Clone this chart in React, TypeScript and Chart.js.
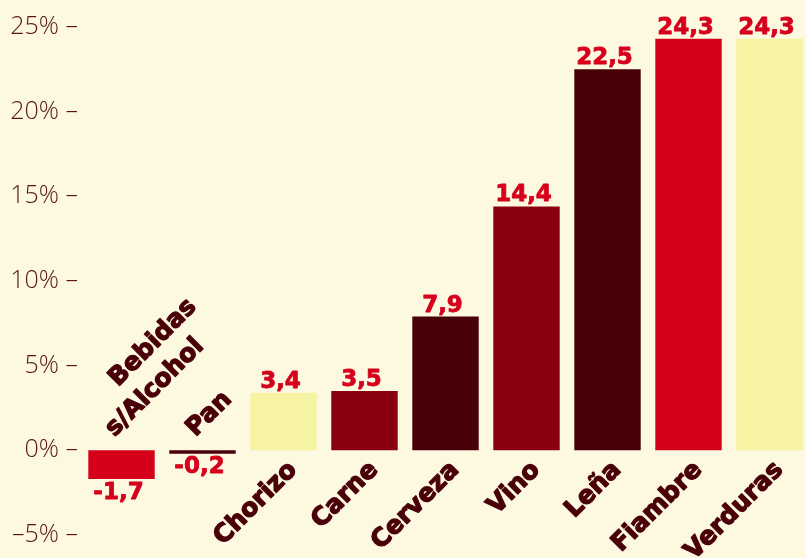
import React, { useEffect, useRef } from "react";
import { Chart, registerables } from "chart.js";

Chart.register(...registerables);

const categoryLines: string[][] = [
  ["Bebidas", "s/Alcohol"],
  ["Pan"],
  ["Chorizo"],
  ["Carne"],
  ["Cerveza"],
  ["Vino"],
  ["Leña"],
  ["Fiambre"],
  ["Verduras"],
];
const values: number[] = [-1.7, -0.2, 3.4, 3.5, 7.9, 14.4, 22.5, 24.3, 24.3];
const barColors: string[] = [
  "#d5001a",
  "#4a0008",
  "#f6f3a2",
  "#8a0010",
  "#4a0008",
  "#8a0010",
  "#4a0008",
  "#d5001a",
  "#f6f3a2",
];
const yTicks: number[] = [-5, 0, 5, 10, 15, 20, 25];

const BG = "#fcf9e0";
const DARK = "#4a0008";
const RED = "#d6001c";
const LABEL_FONT = "'DejaVu Sans', sans-serif";

const fmt = (v: number) => v.toFixed(1).replace(".", ",");

function heavyText(ctx: CanvasRenderingContext2D, t: string, x: number, y: number, w: number) {
  ctx.lineWidth = w;
  ctx.lineJoin = "round";
  ctx.strokeText(t, x, y);
  ctx.fillText(t, x, y);
}

const labelPlugin = {
  id: "customLabels",
  afterDatasetsDraw(chart: any) {
    const ctx = chart.ctx as CanvasRenderingContext2D;
    const xs = chart.scales.x;
    const ys = chart.scales.y;
    const zeroY = ys.getPixelForValue(0);
    const meta = chart.getDatasetMeta(0);
    ctx.save();
    // value labels
    ctx.fillStyle = RED;
    ctx.strokeStyle = RED;
    ctx.font = `bold 23px ${LABEL_FONT}`;
    ctx.textAlign = "center";
    values.forEach((v, i) => {
      const bar = meta.data[i];
      const x = bar.x - 3;
      if (v >= 0) {
        ctx.textBaseline = "alphabetic";
        heavyText(ctx, fmt(v), x, ys.getPixelForValue(v) - 5, 0.8);
      } else {
        ctx.textBaseline = "top";
        heavyText(ctx, fmt(v), x, ys.getPixelForValue(v) + 2, 0.8);
      }
    });
    // category labels
    ctx.fillStyle = DARK;
    ctx.strokeStyle = DARK;
    ctx.font = `bold 25px ${LABEL_FONT}`;
    categoryLines.forEach((lines, i) => {
      const x = xs.getPixelForValue(i);
      ctx.save();
      if (values[i] >= 0) {
        ctx.translate(x + 1, zeroY + 7);
        ctx.rotate(-Math.PI / 4);
        ctx.textAlign = "right";
        ctx.textBaseline = "top";
        heavyText(ctx, lines[0], 0, 0, 1.3);
      } else {
        ctx.translate(x - 7, zeroY - 13);
        ctx.rotate(-Math.PI / 4);
        ctx.textAlign = "left";
        ctx.textBaseline = "alphabetic";
        const n = lines.length;
        for (let k = 0; k < n; k++) {
          const fromBottom = n - 1 - k;
          heavyText(ctx, lines[k], fromBottom * 38, -fromBottom * 33, 1.3);
        }
      }
      ctx.restore();
    });
    ctx.restore();
  },
};

export default function App() {
  const ref = useRef<HTMLCanvasElement | null>(null);
  useEffect(() => {
    if (!ref.current) return;
    const chart = new Chart(ref.current, {
      type: "bar",
      data: {
        labels: categoryLines.map((l) => l.join(" ")),
        datasets: [
          {
            data: values,
            backgroundColor: barColors,
            borderWidth: 0,
            barPercentage: 0.82,
            categoryPercentage: 1,
          },
        ],
      },
      options: {
        animation: false,
        responsive: false,
        events: [],
        layout: { padding: { top: 27, bottom: 23, left: 0, right: 0 } },
        plugins: {
          legend: { display: false },
          tooltip: { enabled: false },
        },
        scales: {
          x: {
            display: false,
            offset: true,
          },
          y: {
            min: -5,
            max: 25,
            afterBuildTicks: (scale: any) => {
              scale.ticks = yTicks.map((v) => ({ value: v }));
            },
            afterFit: (scale: any) => {
              scale.width = 81;
            },
            grid: { display: false },
            border: { display: false },
            ticks: {
              color: "#5a1414",
              padding: -5,
              font: { family: "'Open Sans', sans-serif", size: 25, weight: 300 },
              callback: (v: any) => `${Number(v) < 0 ? "–" + Math.abs(Number(v)) : v}% –`,
            },
          },
        },
      },
      plugins: [labelPlugin],
    });
    return () => chart.destroy();
  }, []);
  return (
    <div
      style={{
        position: "fixed",
        left: 0,
        top: 0,
        width: 806,
        height: 558,
        overflow: "hidden",
        background: BG,
      }}
    >
      <canvas ref={ref} width={810} height={558} style={{ display: "block", width: 810, height: 558 }} />
    </div>
  );
}
